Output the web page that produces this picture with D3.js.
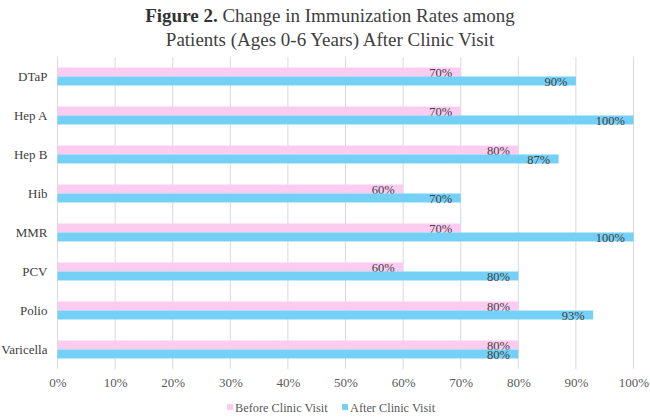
<!DOCTYPE html>
<html><head><meta charset="utf-8">
<script src="https://cdn.jsdelivr.net/npm/d3@7"></script>
<style>body{margin:0;background:#fff}svg{display:block}</style>
</head><body>
<svg id="c" width="650" height="417"></svg>
<script>
const categories = ["DTaP","Hep A","Hep B","Hib","MMR","PCV","Polio","Varicella"];
const beforeValues = [70,70,80,60,70,60,80,80];
const afterValues = [90,100,87,70,100,80,93,80];
const xTicks = [0,10,20,30,40,50,60,70,80,90,100];
const seriesNames = ["Before Clinic Visit","After Clinic Visit"];
const colors = ["#fccbf0","#74d0f6"];

(function(){
const svg = d3.select("#c");
const font = "'Liberation Serif','Times New Roman',serif";
const mLeft = 57.5, mRight = 633.5, mTop = 57, mBottom = 369;

const x = d3.scaleLinear().domain([0,100]).range([mLeft,mRight]);
const y = d3.scaleBand().domain(categories).range([mTop,mBottom]).paddingInner(0.54).paddingOuter(0.27);
const sub = d3.scaleBand().domain([0,1]).range([0,y.bandwidth()]);

// title
const t = svg.append("text").attr("text-anchor","middle").attr("font-family",font)
  .attr("font-size",19).attr("fill","#404040");
const l1 = t.append("tspan").attr("x",330).attr("y",22);
l1.append("tspan").attr("font-weight","bold").attr("fill","#333").text("Figure 2.");
l1.append("tspan").text(" Change in Immunization Rates among");
t.append("tspan").attr("x",330).attr("y",46).text("Patients (Ages 0-6 Years) After Clinic Visit");

// gridlines
svg.append("g").selectAll("line").data(xTicks).join("line")
  .attr("x1",d=>x(d)).attr("x2",d=>x(d)).attr("y1",mTop).attr("y2",mBottom)
  .attr("stroke","#d9d9d9").attr("stroke-width",1);

// x axis labels
const xAxis = d3.axisBottom(x).tickValues(xTicks).tickFormat(d=>d+"%").tickSize(0).tickPadding(0);
const gx = svg.append("g").attr("transform",`translate(0,${mBottom+9})`).call(xAxis);
gx.select(".domain").remove();
gx.selectAll("text").attr("font-family",font).attr("font-size",13).attr("fill","#595959");

// y axis labels
const yAxis = d3.axisLeft(y).tickSize(0).tickPadding(10);
const gy = svg.append("g").attr("transform",`translate(${mLeft},0)`).call(yAxis);
gy.select(".domain").remove();
gy.selectAll("text").attr("font-family",font).attr("font-size",13).attr("fill","#404040");

// bars
const series = [beforeValues, afterValues];
series.forEach((vals,si)=>{
  const g = svg.append("g");
  g.selectAll("rect").data(vals).join("rect")
    .attr("x",x(0)).attr("y",(d,i)=>y(categories[i])+sub(si))
    .attr("width",d=>x(d)-x(0)).attr("height",sub.bandwidth())
    .attr("fill",colors[si]);
  g.selectAll("text").data(vals).join("text")
    .attr("x",d=>x(d)-8.5).attr("y",(d,i)=>y(categories[i])+sub(si)+sub.bandwidth()/2+0.5)
    .attr("dy","0.33em").attr("text-anchor","end")
    .attr("font-family",font).attr("font-size",12.5).attr("fill","#404040")
    .text(d=>d+"%");
});

// legend
const legend = svg.append("g");
const legX = [227, 342];
seriesNames.forEach((n,i)=>{
  legend.append("rect").attr("x",legX[i]).attr("y",404).attr("width",6).attr("height",6).attr("fill",colors[i]);
  legend.append("text").attr("x",legX[i]+8).attr("y",408).attr("dy","0.33em")
    .attr("font-family",font).attr("font-size",12.3).attr("fill","#595959").text(n);
});
})();
</script>
</body></html>
